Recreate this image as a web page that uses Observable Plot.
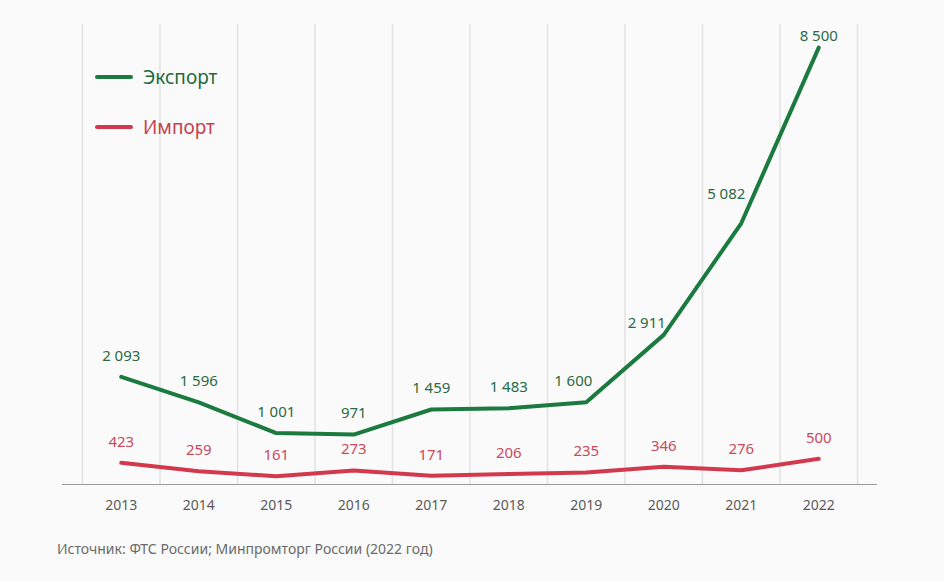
<!DOCTYPE html>
<html><head><meta charset="utf-8">
<script src="https://cdn.jsdelivr.net/npm/d3@7"></script>
<script src="https://cdn.jsdelivr.net/npm/@observablehq/plot@0.6"></script>
<style>
body{margin:0;background:#fafafa;font-family:"Noto Sans",sans-serif;}
#wrap{position:relative;width:944px;height:582px;}
.leg{position:absolute;left:95px;display:flex;align-items:center;font-size:19px;}
.leg span.sw{display:inline-block;width:38px;height:4px;border-radius:2px;margin-right:10px;}
#cap{position:absolute;left:57px;top:539px;font-size:14px;color:#6a6a6a;}
</style></head>
<body><div id="wrap"><div id="chart"></div>
<div class="leg" style="top:64px;color:#1f6b3e"><span class="sw" style="background:#1b7a3f"></span>Экспорт</div>
<div class="leg" style="top:114px;color:#c8404f"><span class="sw" style="background:#d3394c"></span>Импорт</div>
<div id="cap">Источник: ФТС России; Минпромторг России (2022 год)</div>
</div>
<script>
const years = [2013,2014,2015,2016,2017,2018,2019,2020,2021,2022];
const exportVals = [2093,1596,1001,971,1459,1483,1600,2911,5082,8500];
const importVals = [423,259,161,273,171,206,235,346,276,500];

const exp = years.map((y,i)=>({year:y,value:exportVals[i]}));
const imp = years.map((y,i)=>({year:y,value:importVals[i]}));
const grid = [...years.map(y=>y-0.5), years[years.length-1]+0.5];

// label offsets in px (style only)
const expDx = {2019:-13,2020:-17,2021:-15};
const expDy = {2020:-12,2021:-29,2022:-11};
const fmt = v => d3.format(",")(v).replace(/,/g," ");

const exportLabels = Plot.text(exp,{x:"year",y:"value",text:d=>fmt(d.value),fill:"#2b6a42",fontSize:15,
  render(index, scales, values, dims, context, next){
    const g = next(index, scales, values, dims, context);
    d3.select(g).selectAll("text").each(function(_,k){
      const d = exp[index[k]];
      const dx = expDx[d.year]||0, dy = expDy[d.year]??-21;
      const t = d3.select(this), tr = t.attr("transform")||"";
      t.attr("transform", tr + ` translate(${dx},${dy})`);
    });
    return g;
  }});

const chart = Plot.plot({
  width:944, height:525,
  marginLeft:82, marginRight:87, marginTop:24, marginBottom:41,
  style:{background:"transparent",fontFamily:"Noto Sans, sans-serif"},
  x:{type:"linear",domain:[2012.5,2022.5],label:null},
  y:{domain:[0,8950],axis:null},
  marks:[
    Plot.ruleX(grid,{x:d=>d,y1:0,y2:8950,stroke:"#e2e2e2",strokeWidth:1.5}),
    Plot.ruleY([0],{stroke:"#9a9a9a",strokeWidth:1,insetLeft:-20,insetRight:-20}),
    Plot.axisX({ticks:years,tickFormat:d=>String(d),tickSize:0,tickPadding:16,fontSize:14,fill:"#5a5a5a",label:null}),
    Plot.line(imp,{x:"year",y:"value",stroke:"#d3394c",strokeWidth:4,strokeLinejoin:"round",strokeLinecap:"round"}),
    Plot.line(exp,{x:"year",y:"value",stroke:"#1b7a3f",strokeWidth:4,strokeLinejoin:"round",strokeLinecap:"round"}),
    Plot.text(imp,{x:"year",y:"value",text:d=>fmt(d.value),dy:-21,fill:"#c94a5c",fontSize:15}),
    exportLabels
  ]
});
document.getElementById("chart").appendChild(chart);
</script></body></html>
